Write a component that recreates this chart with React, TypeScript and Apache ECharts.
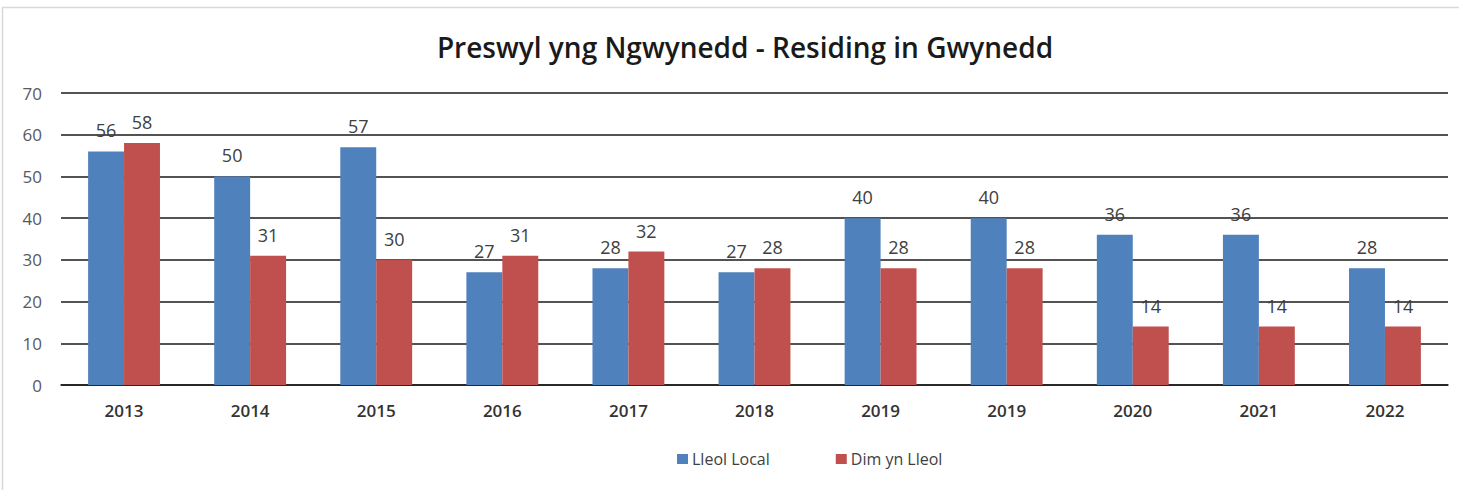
import React, { useEffect, useRef } from "react";
import * as echarts from "echarts";

const years = ["2013", "2014", "2015", "2016", "2017", "2018", "2019", "2019", "2020", "2021", "2022"];
const lleolLocal = [56, 50, 57, 27, 28, 27, 40, 40, 36, 36, 28];
const dimYnLleol = [58, 31, 30, 31, 32, 28, 28, 28, 14, 14, 14];
const seriesNames = ["Lleol Local", "Dim yn Lleol"];
const titleText = "Preswyl yng Ngwynedd - Residing in Gwynedd";

export default function App() {
  const ref = useRef<HTMLDivElement>(null);
  useEffect(() => {
    if (!ref.current) return;
    const chart = echarts.init(ref.current, null, { renderer: "svg" });
    const font = "'Open Sans', 'Noto Sans', sans-serif";
    const labelStyle = {
      show: true,
      position: "top",
      distance: 12,
      fontSize: 18,
      color: "#404040",
      fontFamily: font,
    };
    chart.setOption({
      animation: false,
      backgroundColor: "#ffffff",
      title: {
        text: titleText,
        left: 740,
        textAlign: "center",
        top: 28,
        textStyle: { fontSize: 28, fontWeight: 600, color: "#1a1a1a", fontFamily: font },
      },
      graphic: [
        {
          type: "rect",
          shape: { x: 2.5, y: 7.5, width: 1480, height: 520 },
          style: { fill: "none", stroke: "#d9d9d9", lineWidth: 1.5 },
          silent: true,
        },
      ],
      legend: {
        data: seriesNames,
        left: 672,
        top: 446,
        icon: "rect",
        itemWidth: 11,
        itemHeight: 10,
        itemGap: 66,
        textStyle: { fontSize: 16, color: "#404040", fontFamily: font, padding: [0, 0, 0, -1] },
      },
      grid: { left: 61, right: 11, top: 93, bottom: 105 },
      xAxis: {
        type: "category",
        data: years,
        axisLine: { lineStyle: { color: "#1a1a1a", width: 1.5 } },
        axisTick: { show: false },
        axisLabel: { fontSize: 17, fontWeight: 600, color: "#333333", margin: 17, fontFamily: font },
      },
      yAxis: {
        type: "value",
        min: 0,
        max: 70,
        interval: 10,
        axisLine: { show: false },
        axisTick: { show: false },
        axisLabel: { fontSize: 17, color: "#595959", margin: 19, fontFamily: font },
        splitLine: { lineStyle: { color: "#1a1a1a", width: 1.5 } },
      },
      series: [
        {
          name: seriesNames[0],
          type: "bar",
          data: lleolLocal,
          barGap: "0%",
          barCategoryGap: "43%",
          itemStyle: { color: "#4F81BD" },
          label: labelStyle,
        },
        {
          name: seriesNames[1],
          type: "bar",
          data: dimYnLleol,
          itemStyle: { color: "#C0504D" },
          label: labelStyle,
        },
      ],
    });
    return () => chart.dispose();
  }, []);
  return (
    <div
      ref={ref}
      style={{ position: "fixed", left: 0, top: 0, width: 1459, height: 490, background: "#fff" }}
    />
  );
}
